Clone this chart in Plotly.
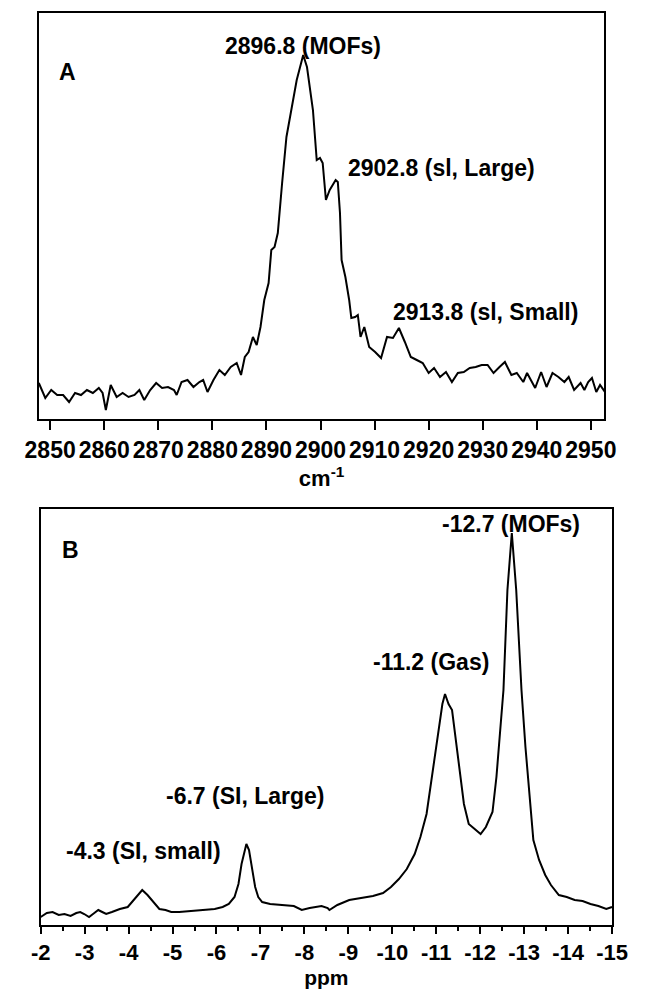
import plotly.graph_objects as go

# ---------------- Panel A (Raman, cm-1) ----------------
raman_x = [2847.9, 2849.1, 2850.2, 2851.3, 2852.4, 2853.5, 2854.6, 2855.7, 2856.8, 2857.9,
           2859.0, 2859.7, 2860.3, 2861.2, 2862.3, 2863.4, 2864.5, 2865.6, 2866.5, 2867.4,
           2868.5, 2869.6, 2870.7, 2871.8, 2872.9, 2873.4, 2874.3, 2875.4, 2876.5, 2877.6,
           2878.3, 2879.1, 2880.2, 2881.3, 2882.3, 2883.4, 2884.5, 2885.3, 2886.0, 2886.7,
           2887.5, 2888.2, 2888.9, 2889.6, 2890.4, 2890.9, 2891.5, 2892.1, 2892.9, 2893.7,
           2895.6, 2896.8, 2897.5, 2898.6, 2899.3, 2899.9, 2900.4, 2901.0, 2901.7, 2902.8,
           2903.2, 2903.6, 2903.9, 2904.6, 2905.3, 2905.7, 2906.4, 2906.9, 2907.4, 2908.1,
           2909.0, 2910.1, 2911.2, 2912.3, 2913.4, 2914.5, 2915.6, 2916.7, 2917.8, 2918.9,
           2920.0, 2921.0, 2922.1, 2923.2, 2924.3, 2925.4, 2926.5, 2927.6, 2928.7, 2929.8,
           2930.9, 2932.0, 2933.1, 2934.1, 2935.3, 2936.3, 2937.5, 2938.2, 2938.9, 2939.7,
           2940.8, 2941.8, 2942.9, 2944.0, 2945.1, 2945.9, 2946.9, 2948.1, 2948.8, 2949.5,
           2950.2, 2951.0, 2951.7, 2952.6]
raman_y = [36, 21, 29, 24, 24, 17, 26, 24, 29, 26,
           31, 26, 9, 34, 22, 26, 22, 24, 29, 19,
           29, 36, 31, 32, 29, 24, 37, 39, 32, 37,
           39, 27, 39, 49, 44, 52, 56, 44, 62, 67,
           82, 74, 92, 119, 136, 169, 172, 186, 236, 282,
           339, 364, 352, 309, 259, 261, 256, 219, 229, 239,
           237, 206, 159, 142, 119, 101, 102, 104, 82, 92,
           72, 67, 61, 82, 81, 91, 77, 62, 59, 56,
           46, 51, 42, 47, 37, 46, 47, 51, 52, 54,
           54, 46, 52, 57, 44, 46, 37, 46, 39, 31,
           47, 32, 46, 42, 37, 42, 29, 36, 29, 37,
           41, 27, 34, 27]
raman_ticks = [2850, 2860, 2870, 2880, 2890, 2900, 2910, 2920, 2930, 2940, 2950]
raman_tick_labels = [str(v) for v in raman_ticks]
raman_labels = ["2896.8 (MOFs)", "2902.8 (sl, Large)", "2913.8 (sl, Small)"]
raman_label_x = [2896.8, 2922.3, 2930.6]
raman_label_y = [373, 251, 107]

# ---------------- Panel B (NMR, ppm) ----------------
nmr_x = [-2.00, -2.14, -2.27, -2.41, -2.54, -2.68, -2.81, -2.90, -2.99, -3.10,
         -3.22, -3.31, -3.40, -3.49, -3.62, -3.80, -3.98, -4.12, -4.23, -4.31,
         -4.43, -4.57, -4.70, -4.84, -4.97, -5.15, -5.42, -5.69, -5.96, -6.14,
         -6.28, -6.41, -6.50, -6.57, -6.64, -6.68, -6.74, -6.82, -6.88, -6.95,
         -7.04, -7.22, -7.49, -7.76, -7.94, -8.12, -8.39, -8.53, -8.57, -8.75,
         -9.02, -9.29, -9.56, -9.79, -9.97, -10.15, -10.33, -10.51, -10.64, -10.78,
         -10.91, -11.05, -11.14, -11.20, -11.28, -11.36, -11.50, -11.63, -11.74, -11.90,
         -12.01, -12.13, -12.28, -12.37, -12.46, -12.53, -12.62, -12.72, -12.82, -12.94,
         -13.03, -13.12, -13.21, -13.34, -13.48, -13.61, -13.79, -13.97, -14.15, -14.33,
         -14.51, -14.69, -14.87, -15.00]
nmr_y = [8, 12, 13, 10, 11, 9, 12, 13, 11, 8,
         12, 15, 13, 11, 13, 16, 18, 25, 31, 35,
         30, 23, 16, 15, 13, 13, 14, 15, 16, 18,
         21, 28, 41, 61, 76, 81, 75, 55, 38, 28,
         23, 21, 20, 19, 15, 17, 19, 17, 15, 20,
         25, 27, 29, 32, 38, 46, 56, 71, 88, 111,
         151, 195, 221, 231, 221, 215, 168, 121, 101, 95,
         91, 98, 113, 148, 195, 235, 335, 392, 335, 235,
         178, 128, 85, 65, 50, 40, 30, 28, 25, 24,
         21, 19, 16, 18]
nmr_ticks = [-2, -3, -4, -5, -6, -7, -8, -9, -10, -11, -12, -13, -14, -15]
nmr_tick_labels = ["-2", "-3", "-4", "-5", "-6", "-7", "-8", "-9", "-10", "-11", "-12", "-13", "-14", "-15"]
nmr_labels = ["-12.7 (MOFs)", "-11.2 (Gas)", "-6.7 (SI, Large)", "-4.3 (SI, small)"]
nmr_label_x = [-12.70, -10.87, -6.65, -4.33]
nmr_label_y = [401, 263, 129, 74]

panel_letters = ["A", "B"]

W, H = 649, 989
FONT = "Liberation Sans"

def px_x(a, b):
    return [a / W, b / W]

def px_y(top, bottom):
    return [1 - bottom / H, 1 - top / H]

fig = go.Figure()
fig.add_trace(go.Scatter(x=raman_x, y=raman_y, mode="lines",
                         line=dict(color="black", width=2), xaxis="x", yaxis="y",
                         showlegend=False, hoverinfo="skip"))
fig.add_trace(go.Scatter(x=nmr_x, y=nmr_y, mode="lines",
                         line=dict(color="black", width=2), xaxis="x2", yaxis="y2",
                         showlegend=False, hoverinfo="skip"))

tickfont = dict(family=FONT, size=23, color="black", weight="bold")
tickfont2 = dict(family=FONT, size=22, color="black", weight="bold")
titlefont = dict(family=FONT, size=22, color="black", weight="bold")
titlefont2 = dict(family=FONT, size=21, color="black", weight="bold")

fig.update_layout(
    width=W, height=H,
    margin=dict(l=0, r=0, t=0, b=0),
    paper_bgcolor="white", plot_bgcolor="white",
    font=dict(family=FONT, color="black", weight="bold"),
    xaxis=dict(domain=px_x(26, 619), range=[2847.9, 2952.5], anchor="y",
               showline=True, mirror=True, linecolor="black", linewidth=2,
               ticks="outside", ticklen=9, tickwidth=2, tickcolor="black",
               tickvals=raman_ticks, ticktext=raman_tick_labels, tickfont=tickfont,
               tickangle=0, showgrid=False, zeroline=False,
               title=dict(text="cm<sup>-1</sup>", font=titlefont, standoff=3)),
    yaxis=dict(domain=px_y(13, 419), range=[0, 406], anchor="x",
               showline=True, mirror=True, linecolor="black", linewidth=2,
               showticklabels=False, ticks="", showgrid=False, zeroline=False),
    xaxis2=dict(domain=px_x(28, 627), range=[-2, -15], anchor="y2",
                showline=True, mirror=True, linecolor="black", linewidth=2,
                ticks="outside", ticklen=7, tickwidth=2, tickcolor="black",
                tickvals=nmr_ticks, ticktext=nmr_tick_labels, tickfont=tickfont2,
                tickangle=0,
                minor=dict(dtick=0.5, ticks="outside", ticklen=4, tickwidth=2, tickcolor="black"),
                showgrid=False, zeroline=False,
                title=dict(text="ppm", font=titlefont2, standoff=6)),
    yaxis2=dict(domain=px_y(509, 925), range=[0, 416], anchor="x2",
                showline=True, mirror=True, linecolor="black", linewidth=2,
                showticklabels=False, ticks="", showgrid=False, zeroline=False),
)

annfont = dict(family=FONT, size=23, color="black", weight="bold")
for t, x, y in zip(raman_labels, raman_label_x, raman_label_y):
    fig.add_annotation(x=x, y=y, xref="x", yref="y", text=t, showarrow=False, font=annfont)
for t, x, y in zip(nmr_labels, nmr_label_x, nmr_label_y):
    fig.add_annotation(x=x, y=y, xref="x2", yref="y2", text=t, showarrow=False, font=annfont)

fig.add_annotation(x=2853.2, y=347, xref="x", yref="y", text=panel_letters[0],
                   showarrow=False, font=annfont)
fig.add_annotation(x=-2.67, y=375, xref="x2", yref="y2", text=panel_letters[1],
                   showarrow=False, font=annfont)

fig.write_html("out.html")
